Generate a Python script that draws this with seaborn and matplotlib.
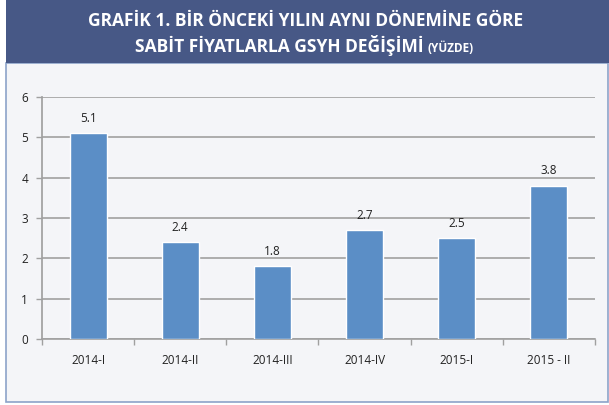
import matplotlib
matplotlib.use("Agg")
import matplotlib.pyplot as plt
import matplotlib.patches as mpatches
from matplotlib.offsetbox import TextArea, HPacker, AnnotationBbox
import seaborn as sns

# Data
periods = ['2014-I', '2014-II', '2014-III', '2014-IV', '2015-I', '2015 - II']
gdp_change = [5.1, 2.4, 1.8, 2.7, 2.5, 3.8]

sns.set_theme(style="white")
plt.rcParams['font.family'] = ['Open Sans', 'DejaVu Sans']

W, H = 609, 405
fig = plt.figure(figsize=(W / 100, H / 100), dpi=100)
fig.patch.set_facecolor('white')

# light panel with blue border
panel = mpatches.Rectangle((6 / W, 3 / H), (W - 7) / W, (H - 63 - 3) / H,
                           transform=fig.transFigure, facecolor='#F4F5F8',
                           edgecolor='#8CA3C9', linewidth=1.2, zorder=0)
fig.patches.append(panel)

# dark blue title band
band = mpatches.Rectangle((6 / W, (H - 63) / H), (W - 6) / W, 63 / H,
                          transform=fig.transFigure, facecolor='#475886',
                          edgecolor='none', zorder=1)
fig.patches.append(band)

fig.text(0.502, (H - 21) / H, 'GRAFİK 1. BİR ÖNCEKİ YILIN AYNI DÖNEMİNE GÖRE',
         ha='center', va='center', color='white', fontsize=12.5, fontweight='bold')

# second line: big part + small "(YÜZDE)"
ta1 = TextArea('SABİT FİYATLARLA GSYH DEĞİŞİMİ ',
               textprops=dict(color='white', fontsize=12.5, fontweight='bold'))
ta2 = TextArea('(YÜZDE)', textprops=dict(color='white', fontsize=8.5, fontweight='bold'))
pack = HPacker(children=[ta1, ta2], align='baseline', pad=0, sep=0)
ab = AnnotationBbox(pack, (0.5, (H - 46) / H), xycoords='figure fraction',
                    frameon=False, box_alignment=(0.5, 0.5))
fig.add_artist(ab)

ax = fig.add_axes([42 / W, (H - 339) / H, (595 - 42) / W, (339 - 97) / H])
ax.set_facecolor('none')
ax.set_zorder(3)

sns.barplot(x=periods, y=gdp_change, color='#5B8EC6', width=0.4,
            saturation=1, ax=ax, zorder=3)

for i, v in enumerate(gdp_change):
    ax.annotate(f'{v:.1f}', xy=(i, v), xytext=(0, 6), textcoords='offset points',
                ha='center', va='bottom', fontsize=8.5, color='#222222')

ax.set_ylim(0, 6)
ax.set_xlim(-0.5, len(periods) - 0.5)
ax.set_yticks(range(0, 7))
ax.yaxis.grid(True, color='#A0A0A0', linewidth=1.2)
ax.set_axisbelow(True)
for s in ['top', 'right']:
    ax.spines[s].set_visible(False)
ax.spines['left'].set_color('#A0A0A0')
ax.spines['bottom'].set_color('#A0A0A0')
ax.spines['bottom'].set_linewidth(1.2)

# Excel-style ticks at category boundaries
ax.set_xticks([x + 0.5 for x in range(-1, len(periods))], minor=True)
ax.tick_params(axis='x', which='minor', length=4, color='#A0A0A0', width=1, bottom=True)
ax.tick_params(axis='x', which='major', length=0, pad=11, labelsize=8.5, labelcolor='#222222')
ax.tick_params(axis='y', length=4, color='#A0A0A0', width=1, left=True, pad=6,
               labelsize=8.5, labelcolor='#222222')
ax.set_xlabel('')
ax.set_ylabel('')

fig.savefig('out.png', dpi=100)
